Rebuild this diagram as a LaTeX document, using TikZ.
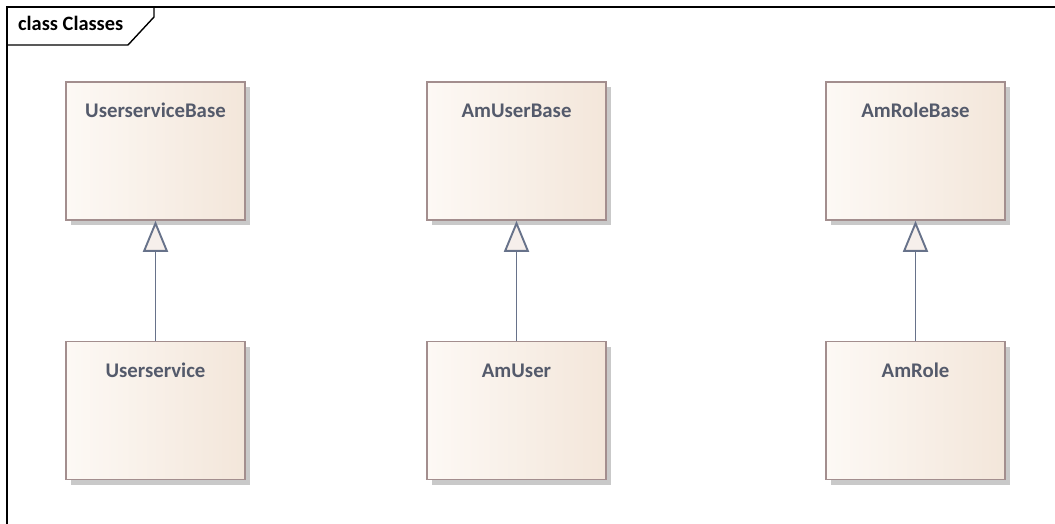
\documentclass[tikz,border=0pt]{standalone}
\usepackage{fontspec}
\setmainfont{Carlito}
\usetikzlibrary{arrows.meta,shadows}
\definecolor{boxleft}{HTML}{FDF9F5}
\definecolor{boxright}{HTML}{F3E6DA}
\definecolor{boxborder}{HTML}{A38E8E}
\definecolor{shadowcol}{HTML}{C9C9C9}
\definecolor{txtcol}{HTML}{545A6B}
\definecolor{gencol}{HTML}{67728A}
\definecolor{trifill}{HTML}{F6EFEB}
\tikzset{
  classbox/.style={rectangle, draw=boxborder, line width=1.6pt,
    left color=boxleft, right color=boxright,
    minimum width=179pt, minimum height=138pt, inner sep=0pt,
    drop shadow={shadow xshift=5pt, shadow yshift=-5pt, fill=shadowcol, opacity=1}},
  classlabel/.style={anchor=base, inner sep=0pt, text=txtcol,
    font=\fontsize{20.8}{24}\selectfont\bfseries},
  gen/.style={draw=gencol, line width=1.9pt,
    -{Triangle[length=31pt, width=25pt, fill=trifill, line join=miter]}},
  frameline/.style={draw=black, line width=1.4pt},
}
\begin{document}
\begin{tikzpicture}[x=1pt,y=-1pt]
\useasboundingbox[fill=white] (0,0) rectangle (1055,524);
% frame
\draw[frameline] (7,524) -- (7,7) -- (1055,7);
\draw[frameline] (154,7) -- (154,17) -- (128,45) -- (7,45);
\node[anchor=base west, inner sep=0pt, text=black,
  font=\fontsize{20.4}{24}\selectfont\bfseries] (title) at (18,31) {class Classes};
% boxes
\node[classbox] (usb) at (155.5,151) {};
\node[classbox] (us)  at (155.5,410.5) {};
\node[classbox] (aub) at (516.5,151) {};
\node[classbox] (au)  at (516.5,410.5) {};
\node[classbox] (arb) at (915.5,151) {};
\node[classbox] (ar)  at (915.5,410.5) {};
% labels
\node[classlabel] (usbT) at (155.5,118) {UserserviceBase};
\node[classlabel] (usT)  at (155.5,377) {Userservice};
\node[classlabel] (aubT) at (516.5,118) {AmUserBase};
\node[classlabel] (auT)  at (516.5,377) {AmUser};
\node[classlabel] (arbT) at (915.5,118) {AmRoleBase};
\node[classlabel] (arT)  at (915.5,377) {AmRole};
% generalizations
\draw[gen] (us.north) -- (usb.south);
\draw[gen] (au.north) -- (aub.south);
\draw[gen] (ar.north) -- (arb.south);
\end{tikzpicture}
\end{document}
